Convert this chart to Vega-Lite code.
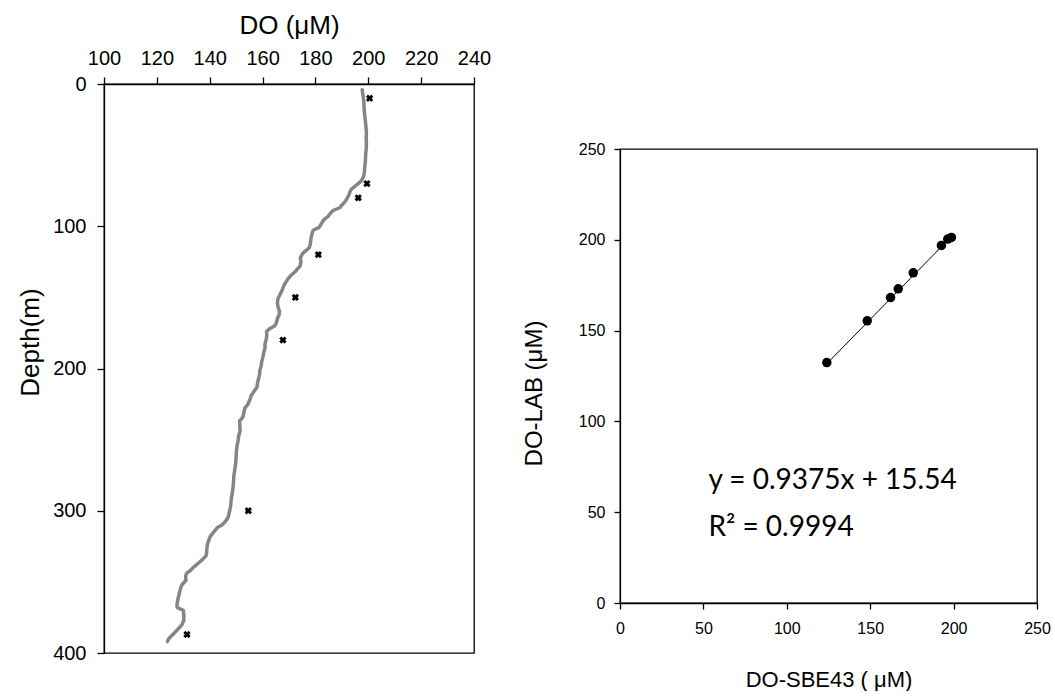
{
  "$schema": "https://vega.github.io/schema/vega-lite/v6.json",
  "padding": {"left": 16, "top": 11, "right": 0, "bottom": 0},
  "background": "white",
  "config": {
    "view": {"stroke": "black", "strokeWidth": 1.3},
    "axis": {"labelFont": "Liberation Sans", "titleFont": "Liberation Sans", "labelColor": "black", "titleColor": "black", "domainColor": "black", "tickColor": "black", "grid": false, "titleFontWeight": "normal", "labelFlush": false, "labelOverlap": false, "domainWidth": 1.3, "tickWidth": 1.3}
  },
  "spacing": 29,
  "hconcat": [
    {
      "width": 370,
      "height": 569,
      "layer": [
        {
          "data": {"values": [
            {"depth": 4, "do": 197.7}, {"depth": 8, "do": 198.0}, {"depth": 12, "do": 198.3}, {"depth": 16, "do": 198.4},
            {"depth": 21, "do": 198.6}, {"depth": 26, "do": 198.9}, {"depth": 30, "do": 199.1}, {"depth": 34, "do": 199.3},
            {"depth": 38, "do": 199.2}, {"depth": 42, "do": 199.3}, {"depth": 46, "do": 199.2}, {"depth": 50, "do": 199.0},
            {"depth": 54, "do": 198.9}, {"depth": 58, "do": 198.7}, {"depth": 62, "do": 198.5}, {"depth": 65, "do": 198.2},
            {"depth": 68, "do": 197.4}, {"depth": 70, "do": 196.3}, {"depth": 71, "do": 195.5}, {"depth": 74, "do": 193.6},
            {"depth": 76, "do": 193.0}, {"depth": 78, "do": 192.7}, {"depth": 81, "do": 191.8}, {"depth": 83, "do": 191.1},
            {"depth": 85, "do": 190.0}, {"depth": 87, "do": 189.2}, {"depth": 89, "do": 186.6}, {"depth": 91, "do": 185.6},
            {"depth": 93, "do": 184.8}, {"depth": 95, "do": 183.4}, {"depth": 97, "do": 182.6}, {"depth": 99, "do": 182.0},
            {"depth": 101, "do": 181.3}, {"depth": 102, "do": 180.0}, {"depth": 103, "do": 179.1}, {"depth": 106, "do": 178.6},
            {"depth": 109, "do": 178.3}, {"depth": 112, "do": 178.1}, {"depth": 115, "do": 177.7}, {"depth": 117, "do": 176.5},
            {"depth": 119, "do": 175.2}, {"depth": 122, "do": 174.3}, {"depth": 125, "do": 174.5}, {"depth": 128, "do": 174.2},
            {"depth": 130, "do": 173.2}, {"depth": 132, "do": 172.3}, {"depth": 135, "do": 170.5}, {"depth": 137, "do": 169.6},
            {"depth": 140, "do": 168.6}, {"depth": 142, "do": 168.0}, {"depth": 145, "do": 167.4}, {"depth": 148, "do": 166.6},
            {"depth": 151, "do": 165.8}, {"depth": 154, "do": 165.6}, {"depth": 157, "do": 165.9}, {"depth": 160, "do": 166.4},
            {"depth": 162, "do": 166.3}, {"depth": 165, "do": 165.6}, {"depth": 168, "do": 165.2}, {"depth": 170, "do": 164.6},
            {"depth": 172, "do": 162.7}, {"depth": 174, "do": 161.5}, {"depth": 177, "do": 161.6}, {"depth": 180, "do": 161.3},
            {"depth": 183, "do": 160.9}, {"depth": 186, "do": 160.9}, {"depth": 189, "do": 160.4}, {"depth": 192, "do": 160.1},
            {"depth": 195, "do": 159.7}, {"depth": 198, "do": 159.5}, {"depth": 201, "do": 159.0}, {"depth": 204, "do": 158.9},
            {"depth": 207, "do": 158.5}, {"depth": 210, "do": 158.1}, {"depth": 213, "do": 157.9}, {"depth": 216, "do": 156.8},
            {"depth": 219, "do": 155.7}, {"depth": 222, "do": 155.2}, {"depth": 225, "do": 154.5}, {"depth": 228, "do": 153.3},
            {"depth": 231, "do": 152.9}, {"depth": 234, "do": 152.6}, {"depth": 237, "do": 151.3}, {"depth": 240, "do": 151.4},
            {"depth": 244, "do": 151.5}, {"depth": 247, "do": 151.0}, {"depth": 251, "do": 150.7}, {"depth": 254, "do": 150.4},
            {"depth": 258, "do": 150.1}, {"depth": 262, "do": 150.0}, {"depth": 267, "do": 149.8}, {"depth": 271, "do": 149.5},
            {"depth": 276, "do": 149.1}, {"depth": 280, "do": 149.0}, {"depth": 284, "do": 148.8}, {"depth": 288, "do": 148.5},
            {"depth": 291, "do": 148.2}, {"depth": 295, "do": 148.0}, {"depth": 298, "do": 147.8}, {"depth": 302, "do": 147.3},
            {"depth": 305, "do": 146.9}, {"depth": 308, "do": 145.7}, {"depth": 310, "do": 144.6}, {"depth": 312, "do": 142.8},
            {"depth": 315, "do": 141.5}, {"depth": 318, "do": 140.2}, {"depth": 321, "do": 139.6}, {"depth": 324, "do": 139.1},
            {"depth": 327, "do": 138.9}, {"depth": 330, "do": 138.8}, {"depth": 332, "do": 138.5}, {"depth": 334, "do": 137.4},
            {"depth": 336, "do": 136.2}, {"depth": 338, "do": 135.0}, {"depth": 340, "do": 133.7}, {"depth": 342, "do": 132.7},
            {"depth": 344, "do": 131.2}, {"depth": 346, "do": 130.9}, {"depth": 349, "do": 131.0}, {"depth": 352, "do": 129.5},
            {"depth": 355, "do": 128.9}, {"depth": 358, "do": 128.5}, {"depth": 362, "do": 128.0}, {"depth": 366, "do": 127.6},
            {"depth": 368, "do": 127.7}, {"depth": 370, "do": 130.0}, {"depth": 373, "do": 130.2}, {"depth": 377, "do": 130.2},
            {"depth": 380, "do": 129.5}, {"depth": 382, "do": 128.6}, {"depth": 384, "do": 127.6}, {"depth": 386, "do": 126.6},
            {"depth": 388, "do": 125.5}, {"depth": 390, "do": 124.5}, {"depth": 392, "do": 124.0}
          ]},
          "mark": {"type": "line", "color": "#858585", "strokeWidth": 3.5, "strokeCap": "round", "strokeJoin": "round"},
          "encoding": {
            "x": {"field": "do", "type": "quantitative", "scale": {"domain": [100, 240], "nice": false},
              "axis": {"orient": "top", "title": "DO (μM)", "values": [100, 120, 140, 160, 180, 200, 220, 240], "labelFontSize": 20, "titleFontSize": 26, "tickSize": 7, "labelPadding": 9, "titlePadding": 10}},
            "y": {"field": "depth", "type": "quantitative", "scale": {"domain": [0, 400], "reverse": true, "nice": false},
              "axis": {"title": "Depth(m)", "values": [0, 100, 200, 300, 400], "labelFontSize": 20, "titleFontSize": 26, "tickSize": 7, "labelPadding": 11, "titlePadding": 9, "titleY": 258}},
            "order": {"field": "depth", "type": "quantitative"}
          }
        },
        {
          "data": {"values": [
            {"depth": 10, "do": 200.5}, {"depth": 70, "do": 199.5}, {"depth": 80, "do": 196.2}, {"depth": 120, "do": 181.1},
            {"depth": 150, "do": 172.4}, {"depth": 180, "do": 167.7}, {"depth": 300, "do": 154.6}, {"depth": 387, "do": 131.4}
          ]},
          "mark": {"type": "point", "shape": "cross", "angle": 45, "filled": true, "color": "black", "size": 55, "opacity": 1},
          "encoding": {
            "x": {"field": "do", "type": "quantitative"},
            "y": {"field": "depth", "type": "quantitative"}
          }
        }
      ]
    },
    {
      "spacing": 20,
      "vconcat": [
        {
          "width": 417,
          "height": 36,
          "data": {"values": []},
          "mark": {"type": "rule"},
          "encoding": {},
          "view": {"stroke": null}
        },
        {
          "width": 417,
          "height": 454,
          "layer": [
            {
              "data": {"values": [{"sbe": 124.0, "lab": 131.8}, {"sbe": 198.7, "lab": 201.8}]},
              "mark": {"type": "line", "color": "black", "strokeWidth": 1},
              "encoding": {
                "x": {"field": "sbe", "type": "quantitative", "scale": {"domain": [0, 250], "nice": false},
                  "axis": {"title": "DO-SBE43 ( μM)", "values": [0, 50, 100, 150, 200, 250], "labelFontSize": 16, "titleFontSize": 22, "tickSize": 6, "labelPadding": 11, "titlePadding": 33}},
                "y": {"field": "lab", "type": "quantitative", "scale": {"domain": [0, 250], "nice": false},
                  "axis": {"title": "DO-LAB (μM)", "values": [0, 50, 100, 150, 200, 250], "labelFontSize": 16, "titleFontSize": 24, "tickSize": 6, "labelPadding": 9, "titlePadding": 32, "titleY": 244}}
              }
            },
            {
              "data": {"values": [
                {"sbe": 124.0, "lab": 132.4}, {"sbe": 148.2, "lab": 155.4}, {"sbe": 162.2, "lab": 168.2}, {"sbe": 166.8, "lab": 173.0},
                {"sbe": 175.8, "lab": 181.8}, {"sbe": 192.7, "lab": 196.9}, {"sbe": 196.5, "lab": 200.4}, {"sbe": 198.7, "lab": 201.3}
              ]},
              "mark": {"type": "circle", "color": "black", "size": 90, "opacity": 1},
              "encoding": {
                "x": {"field": "sbe", "type": "quantitative"},
                "y": {"field": "lab", "type": "quantitative"}
              }
            },
            {
              "data": {"values": [{}]},
              "mark": {"type": "text", "font": "Lato", "fontSize": 28, "align": "left", "baseline": "alphabetic", "color": "black"},
              "encoding": {
                "x": {"datum": 53, "type": "quantitative"},
                "y": {"datum": 63, "type": "quantitative"},
                "text": {"value": "y = 0.9375x + 15.54"}
              }
            },
            {
              "data": {"values": [{}]},
              "mark": {"type": "text", "font": "Lato", "fontSize": 28, "align": "left", "baseline": "alphabetic", "color": "black"},
              "encoding": {
                "x": {"datum": 53, "type": "quantitative"},
                "y": {"datum": 37, "type": "quantitative"},
                "text": {"value": "R² = 0.9994"}
              }
            }
          ]
        }
      ]
    }
  ]
}
